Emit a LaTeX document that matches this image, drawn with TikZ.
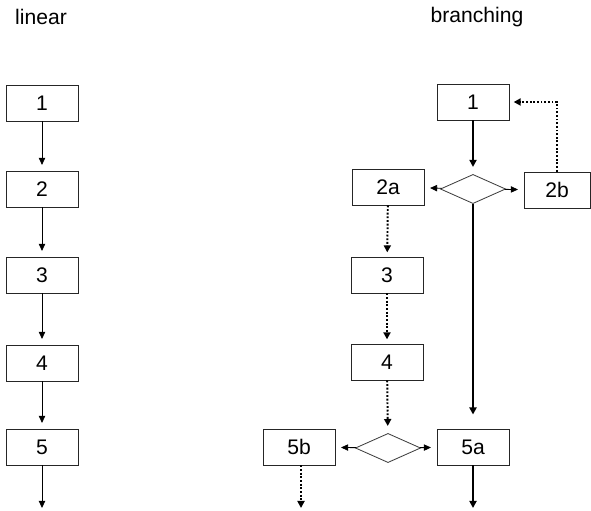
\documentclass[tikz,border=0pt]{standalone}
\usepackage{fontspec}
\setmainfont{Liberation Sans}
\usetikzlibrary{arrows.meta,shapes.geometric}

\tikzset{
  stepbox/.style={draw=black!85,line width=0.6pt,minimum width=1.8cm,minimum height=0.9cm,
    inner sep=0pt,font=\fontsize{15}{17}\selectfont},
  choice/.style={diamond,draw=black!75,line width=0.6pt,minimum width=1.63cm,minimum height=0.73cm,
    inner sep=0pt,aspect=2.2},
  title/.style={font=\fontsize{15}{17}\selectfont},
  thin flow/.style={-{Triangle[length=5pt,width=4.5pt]},line width=0.6pt,shorten >=4pt},
  main flow/.style={-{Triangle[length=5pt,width=5pt]},line width=1.4pt,shorten >=5pt},
  alt flow/.style={-{Triangle[length=5pt,width=5pt]},line width=1.4pt,
    dash pattern=on 1.3pt off 1.3pt,shorten >=3pt}
}

\begin{document}
\begin{tikzpicture}[x=0.025cm,y=-0.025cm]
    \useasboundingbox (0,0) rectangle (591,511);

    % Titles
    \node[title] (tlin) at (41,17) {linear};
    \node[title] (tbr) at (477,17) {branching};

    % Linear chain
    \node[stepbox] (l1) at (42,103) {1};
    \node[stepbox] (l2) at (42,189) {2};
    \node[stepbox] (l3) at (42,275) {3};
    \node[stepbox] (l4) at (42,363) {4};
    \node[stepbox] (l5) at (42,447) {5};
    \coordinate (lend) at (42,508);

    \draw[thin flow] (l1) -- (l2);
    \draw[thin flow] (l2) -- (l3);
    \draw[thin flow] (l3) -- (l4);
    \draw[thin flow] (l4) -- (l5);
    \draw[thin flow,shorten >=0pt] (l5) -- (lend);

    % Branching chain
    \node[stepbox] (b1) at (473,102) {1};
    \node[choice] (d1) at (473,189) {};
    \node[stepbox] (b2a) at (388,187) {2a};
    \node[stepbox,minimum width=1.65cm] (b2b) at (557,190) {2b};
    \node[stepbox] (b3) at (387,275) {3};
    \node[stepbox] (b4) at (387,362) {4};
    \node[choice] (d2) at (388,448) {};
    \node[stepbox] (b5b) at (299,447) {5b};
    \node[stepbox] (b5a) at (473,447) {5a};
    \coordinate (bendb) at (301,508);
    \coordinate (benda) at (473,508);

    % Main path
    \draw[main flow] (b1) -- (d1);
    \draw[main flow,shorten >=10pt] (d1) -- (b5a);
    \draw[main flow,shorten >=0pt] (b5a) -- (benda);

    % Decisions
    \draw[thin flow] (d1) -- (b2a);
    \draw[thin flow] (d1) -- (b2b);
    \draw[thin flow] (d2) -- (b5b);
    \draw[thin flow] (d2) -- (b5a);

    % Side path
    \draw[alt flow] (b2b.north) |- (b1.east);
    \draw[alt flow] (b2a) -- (b3);
    \draw[alt flow] (b3) -- (b4);
    \draw[alt flow,shorten >=5pt] (b4) -- (d2);
    \draw[alt flow,shorten >=0pt] (b5b.south -| bendb) -- (bendb);
  \end{tikzpicture}
\end{document}
